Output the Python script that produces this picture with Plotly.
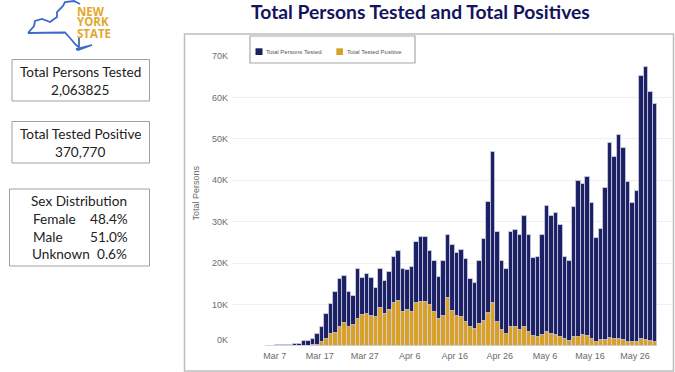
import pandas as pd
import plotly.graph_objects as go

W, H = 675, 372
dates = pd.date_range("2020-03-06", "2020-05-31").strftime("%Y-%m-%d").tolist()

total_k = [0.1, 0.02, 0.2, 0.3, 0.3, 0.3, 0.5, 0.6, 1.3, 1.3, 1.8, 2.8, 4.6, 7.7, 10.1, 13.0, 16.1, 16.8,
           13.0, 12.1, 18.7, 16.3, 17.5, 16.5, 14.0, 18.7,
           15.7, 17.9, 21.5, 23.0, 18.6, 18.4, 19.1, 25.0, 26.3, 26.3, 23.0, 20.5, 16.7, 20.6, 26.8,
           24.4, 22.5, 23.2, 21.0, 16.1, 15.2, 20.6, 25.9, 34.7, 46.9, 27.6, 20.6, 18.7, 27.5, 28.0,
           26.7, 31.4, 26.7, 21.3, 21.4, 26.9, 33.9, 31.5, 32.0, 29.1, 21.4, 20.4, 33.6, 39.8, 39.0,
           40.7, 34.6, 26.0, 28.2, 38.1, 49.0, 45.6, 51.0, 47.7, 39.5, 34.6, 37.4, 65.2, 67.3, 61.2, 58.3]
positive_k = [0, 0, 0, 0, 0, 0, 0.02, 0.03, 0.05, 0.1, 0.2, 0.3, 0.9, 1.7, 2.85, 3.25, 4.6, 5.6,
              4.6, 5.1, 6.5, 7.4, 7.7, 7.15, 7.0, 9.2,
              7.8, 8.7, 10.5, 10.8, 8.3, 8.7, 8.1, 10.4, 10.6, 10.6, 9.9, 8.3, 6.4, 7.2, 11.5,
              8.5, 7.2, 6.9, 5.9, 4.7, 4.0, 5.4, 6.0, 7.9, 10.5, 5.7, 3.9, 3.0, 4.6, 4.6,
              3.9, 4.6, 3.3, 2.5, 2.1, 2.7, 3.3, 2.8, 2.7, 2.1, 1.6, 1.2, 2.1, 2.2, 2.7,
              2.3, 1.8, 1.0, 1.4, 1.4, 1.9, 1.6, 1.6, 1.4, 1.0, 0.9, 1.0, 1.6, 1.4, 1.2, 0.9]
total = [v * 1000 for v in total_k]
positive = [v * 1000 for v in positive_k]

y_ticks = [0, 10000, 20000, 30000, 40000, 50000, 60000, 70000]
y_labels = ["0K<br>&nbsp;", "10K", "20K", "30K", "40K", "50K", "60K", "70K"]
x_ticks = ["2020-03-07 12:00", "2020-03-17 12:00", "2020-03-27 12:00", "2020-04-06 12:00", "2020-04-16 12:00",
           "2020-04-26 12:00", "2020-05-06 12:00", "2020-05-16 12:00", "2020-05-26 12:00"]
x_labels = ["Mar 7", "Mar 17", "Mar 27", "Apr 6", "Apr 16", "Apr 26", "May 6", "May 16", "May 26"]
series_names = ["Total Persons Tested", "Total Tested Positive"]

NAVY = "#1a2063"
GOLD = "#d8a025"
BAR_W = 86400000 * 1.0
EDGE = dict(color="rgba(212,212,232,0.85)", width=0.9)

fig = go.Figure()
fig.add_bar(x=dates, y=total, name=series_names[0], marker=dict(color=NAVY, line=EDGE), width=BAR_W)
fig.add_bar(x=dates, y=positive, name=series_names[1], marker=dict(color=GOLD, line=EDGE), width=BAR_W)


def X(p):
    return p / W


def Y(p):
    return 1 - p / H


def text(px, py, s, size=13.6, color="#222222", font="Lato", anchor="center", bold=False, angle=0):
    fig.add_annotation(xref="paper", yref="paper", x=X(px), y=Y(py), text=f"<b>{s}</b>" if bold else s,
                       showarrow=False, xanchor=anchor, yanchor="middle", borderpad=0, textangle=angle,
                       font=dict(size=size, color=color, family=font))


def rect(x0, y0, x1, y1, color="#a0a0a0", width=1, fill="rgba(0,0,0,0)", layer="below"):
    fig.add_shape(type="rect", xref="paper", yref="paper", x0=X(x0), y0=Y(y0), x1=X(x1), y1=Y(y1),
                  line=dict(color=color, width=width), fillcolor=fill, layer=layer)


def poly(points, color, width=1.8):
    d = "M" + " L".join(f"{X(a):.5f},{Y(b):.5f}" for a, b in points)
    fig.add_shape(type="path", xref="paper", yref="paper", path=d, line=dict(color=color, width=width))


rect(184.5, 34, 673.5, 371, color="#bdbdbd", width=1.5)
rect(12, 59.5, 149.5, 101)
rect(12, 121.5, 149.5, 163)
rect(9.5, 189, 149.5, 266)

text(80, 72, "Total Persons Tested")
text(80, 89.5, "2,063825")
text(80, 133.5, "Total Tested Positive")
text(80, 151.5, "370,770")
text(78.5, 201, "Sex Distribution")
text(32, 218.5, "Female", anchor="left")
text(129, 218.5, "48.4%", anchor="right")
text(32, 236.5, "Male", anchor="left")
text(129, 236.5, "51.0%", anchor="right")
text(31, 254, "Unknown", anchor="left")
text(127.5, 254, "0.6%", anchor="right")

text(421, 11.5, "Total Persons Tested and Total Positives", size=19.3, color="#14145e", bold=True)
text(195.5, 193, "Total Persons", size=9, color="#6b6b6b", font="Liberation Sans", angle=-90)

# Hand-drawn legend box
rect(250, 36, 415, 63, color="#a8a8a8", width=1.2, fill="white", layer="above")
rect(255.5, 48.3, 262.5, 55, color=NAVY, width=0, fill=NAVY, layer="above")
rect(336.3, 48.3, 343, 55, color=GOLD, width=0, fill=GOLD, layer="above")
text(265.3, 51.7, series_names[0], size=6, color="#555555", font="Liberation Sans", anchor="left")
text(346, 51.7, series_names[1], size=6, color="#555555", font="Liberation Sans", anchor="left")

# New York State logo
poly([(28, 33), (34, 26), (35, 21), (42, 19), (50, 22), (57, 17), (57, 12), (63, 6), (65, 2), (74, 1), (80, 4)], "#3f69c8")
poly([(28, 33), (65, 32.5), (70, 38), (76, 45), (79, 47), (79, 38)], "#3f69c8")
poly([(76, 49), (92, 45), (78, 50), (76, 49)], "#3f69c8")
text(76, 11.5, "NEW", size=11.5, color="#e4a72b", font="Open Sans", anchor="left", bold=True)
text(76, 22, "YORK", size=11.5, color="#e4a72b", font="Open Sans", anchor="left", bold=True)
text(76, 33, "STATE", size=11.5, color="#e4a72b", font="Open Sans", anchor="left", bold=True)

fig.update_layout(
    width=W, height=H, margin=dict(l=0, r=0, t=0, b=0), paper_bgcolor="white", plot_bgcolor="white",
    barmode="overlay", bargap=0, showlegend=False,
    font=dict(family="Liberation Sans", color="#666666", size=9),
    xaxis=dict(domain=[X(232), X(673)], type="date", range=["2020-02-27 00:00", "2020-06-03 23:00"],
               tickmode="array", tickvals=x_ticks, ticktext=x_labels, showgrid=False, zeroline=False,
               automargin=False, ticks="", showline=False, ticklabelstandoff=3,
               tickfont=dict(size=9, color="#6b6b6b")),
    yaxis=dict(domain=[Y(346), Y(56)], range=[0, 70000], tickmode="array", tickvals=y_ticks, ticktext=y_labels,
               gridcolor="#f0f0f0", gridwidth=1, zeroline=False, ticks="", showline=False, automargin=False,
               ticklabelstandoff=3, tickfont=dict(size=9, color="#6b6b6b")),
)
fig.write_html("out.html", post_script="document.body.style.margin='0';", config=dict(displayModeBar=False))
